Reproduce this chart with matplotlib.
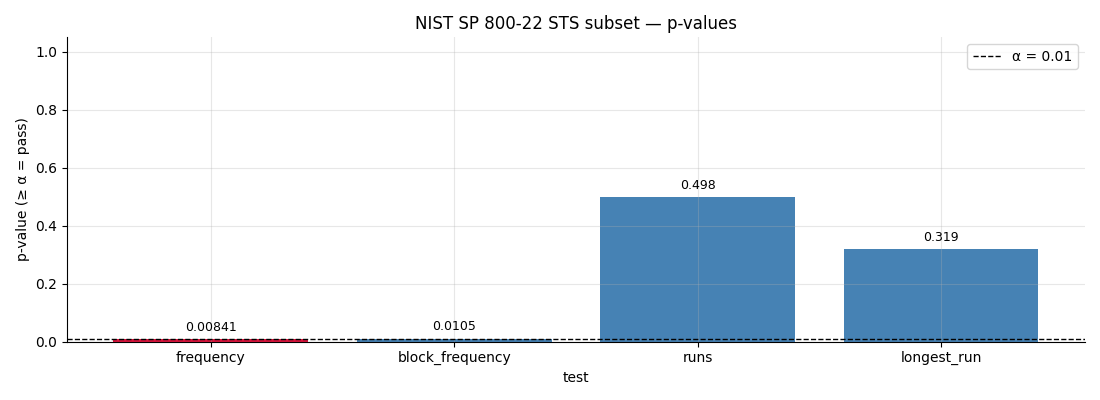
import matplotlib.pyplot as plt

# dane
tests = ['frequency', 'block_frequency', 'runs', 'longest_run']
p_values = [0.00841, 0.0105, 0.498, 0.319]
value_labels = ['0.00841', '0.0105', '0.498', '0.319']
alpha = 0.01


def main():
    fig, ax = plt.subplots(figsize=(11, 4), dpi=100)

    # czerwony gdy test nie przechodzi
    colors = ['crimson' if p < alpha else 'steelblue' for p in p_values]
    bars = ax.bar(tests, p_values, width=0.8, color=colors)

    for bar, txt in zip(bars, value_labels):
        ax.annotate(txt, (bar.get_x() + bar.get_width() / 2, bar.get_height()),
                    xytext=(0, 4), textcoords='offset points',
                    ha='center', va='bottom', fontsize=9)

    ax.axhline(alpha, color='black', linestyle='--', linewidth=1, label='α = 0.01')

    ax.set_ylim(0, 1.05)
    ax.set_title('NIST SP 800-22 STS subset — p-values', fontsize=12)
    ax.set_xlabel('test')
    ax.set_ylabel('p-value (≥ α = pass)')
    ax.grid(True, alpha=0.3)
    ax.spines['top'].set_visible(False)
    ax.spines['right'].set_visible(False)
    ax.legend(loc='upper right')

    fig.subplots_adjust(left=0.061, right=0.986, top=0.907, bottom=0.146)
    fig.savefig('out.png')


if __name__ == "__main__":
    main()
